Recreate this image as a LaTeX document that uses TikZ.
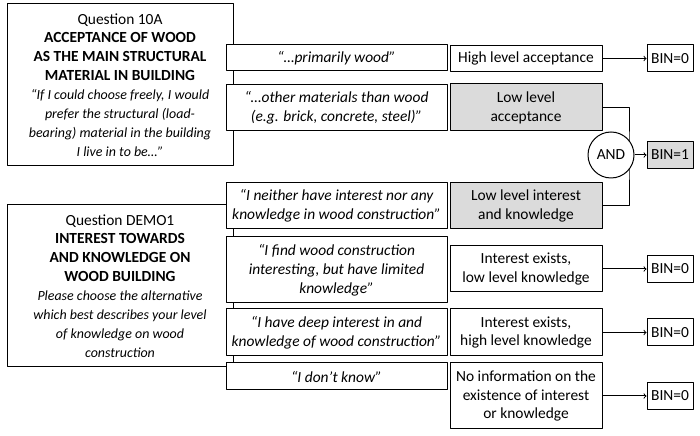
\documentclass[tikz,border=0pt]{standalone}
\usepackage{fontspec}
\setmainfont{Carlito}
\usepackage{tikz}
\usetikzlibrary{positioning}
\newcommand\qitem[1]{{\fontsize{14}{19}\selectfont\itshape #1}}

\begin{document}
\begin{tikzpicture}[>=to,line join=bevel,line width=1bp,
  every node/.style={font=\fontsize{15.5}{19}\selectfont,align=center,inner sep=0pt},
  qbox/.style={draw,fill=white,minimum width=226bp,minimum height=162bp},
  abox/.style={draw,fill=white,minimum width=221bp,font=\fontsize{15.5}{19}\selectfont\itshape},
  rbox/.style={draw,fill=white,minimum width=152bp},
  lowbox/.style={rbox,fill=gray!28},
  binbox/.style={draw,fill=white,minimum width=46bp,minimum height=27bp},
  andnode/.style={draw,circle,fill=white,minimum size=46bp}]
%%
\useasboundingbox (0bp,0bp) rectangle (700bp,436bp);
\node (node_q10a) at (120bp,351bp) [qbox] {Question 10A\\ \textbf{ACCEPTANCE OF WOOD}\\ \textbf{AS THE MAIN STRUCTURAL}\\ \textbf{MATERIAL IN BUILDING}\\ \qitem{“If I could choose freely, I would}\\ \qitem{prefer the structural (load-}\\ \qitem{bearing) material in the building}\\ \qitem{I live in to be…”}};
  \node (node_qdemo) at (120bp,150bp) [qbox] {Question DEMO1\\ \textbf{INTEREST TOWARDS}\\ \textbf{AND KNOWLEDGE ON}\\ \textbf{WOOD BUILDING}\\ \qitem{Please choose the alternative}\\ \qitem{which best describes your level}\\ \qitem{of knowledge on wood}\\ \qitem{construction}};
  \node (node_a1) at (336.5bp,378bp) [abox,minimum height=26bp] {“…primarily wood”};
  \node (node_a2) at (336.5bp,328bp) [abox,minimum height=46bp] {“…other materials than wood\\ (e.g. brick, concrete, steel)”};
  \node (node_a3) at (336.5bp,230bp) [abox,minimum height=46bp] {“I neither have interest nor any\\ knowledge in wood construction”};
  \node (node_a4) at (336.5bp,166bp) [abox,minimum height=66bp] {“I find wood construction\\ interesting, but have limited\\ knowledge”};
  \node (node_a5) at (336.5bp,103.5bp) [abox,minimum height=47bp] {“I have deep interest in and\\ knowledge of wood construction”};
  \node (node_a6) at (336.5bp,59.5bp) [abox,minimum height=27bp] {“I don’t know”};
  \node (node_r1) at (526bp,377.5bp) [rbox,minimum height=26bp] {High level acceptance};
  \node (node_r2) at (526bp,328.5bp) [lowbox,minimum height=47bp] {Low level\\ acceptance};
  \node (node_r3) at (526bp,230bp) [lowbox,minimum height=46bp] {Low level interest\\ and knowledge};
  \node (node_r4) at (526bp,167bp) [rbox,minimum height=46bp] {Interest exists,\\ low level knowledge};
  \node (node_r5) at (526bp,103.5bp) [rbox,minimum height=47bp] {Interest exists,\\ high level knowledge};
  \node (node_r6) at (526bp,40bp) [rbox,minimum height=66bp] {No information on the\\ existence of interest\\ or knowledge};
  \coordinate (bus) at (629bp,281bp);
  \draw [black] (node_r2.east) -| (bus) |- (node_r3.east);
  \node (node_and) at (611bp,281bp) [andnode] {AND};
  \node (node_b1) at (670bp,377.5bp) [binbox] {BIN=0};
  \node (node_bin1) at (670bp,281bp) [binbox,fill=gray!28] {BIN=1};
  \node (node_b3) at (670bp,167bp) [binbox] {BIN=0};
  \node (node_b4) at (670bp,103.5bp) [binbox] {BIN=0};
  \node (node_b5) at (670bp,40bp) [binbox] {BIN=0};
  \draw [black,->] (node_r1) -- (node_b1);
  \draw [black,->] (node_and) -- (node_bin1);
  \draw [black,->] (node_r4) -- (node_b3);
  \draw [black,->] (node_r5) -- (node_b4);
  \draw [black,->] (node_r6) -- (node_b5);
%
\end{tikzpicture}
\end{document}
